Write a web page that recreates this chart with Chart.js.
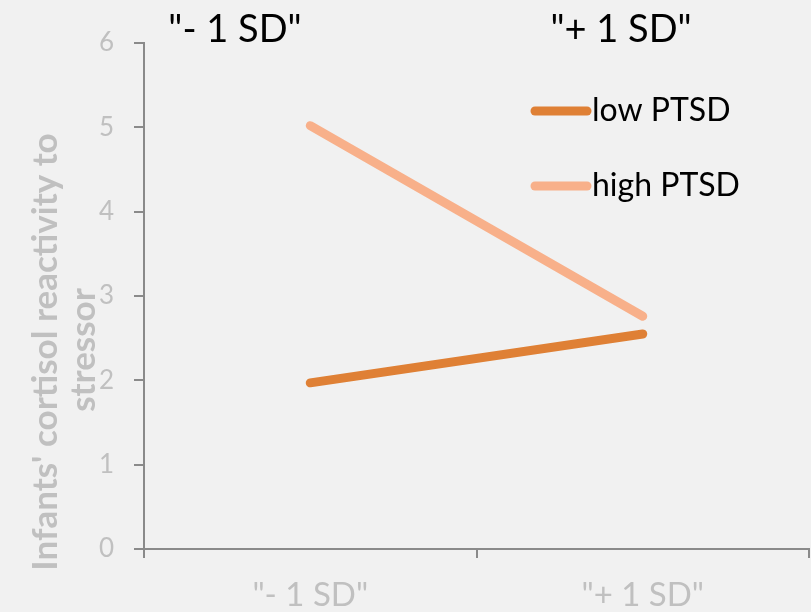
<!DOCTYPE html>
<html><head><meta charset="utf-8">
<script src="https://cdn.jsdelivr.net/npm/chart.js@4"></script>
<style>html,body{margin:0;padding:0;background:#f1f1f1;}#wrap{width:811px;height:612px;}</style>
</head><body><div id="wrap"><canvas id="c" width="811" height="612"></canvas></div>
<script>
const categories = ['"- 1 SD"', '"+ 1 SD"'];
const lowPTSD = [1.97, 2.55];
const highPTSD = [5.02, 2.76];
const yTicks = [0, 1, 2, 3, 4, 5, 6];
const topLabels = ['"- 1 SD"', '"+ 1 SD"'];
const seriesNames = ['low PTSD', 'high PTSD'];
const yTitleLines = ["Infants' cortisol reactivity to", 'stressor'];
const colors = ['#DF8035', '#F8B08A'];

const FONT = 'Lato, "Open Sans", sans-serif';

const bgPlugin = {
  id: 'bg',
  beforeDraw(chart) {
    const ctx = chart.ctx;
    ctx.save();
    ctx.fillStyle = '#f1f1f1';
    ctx.fillRect(0, 0, chart.width, chart.height);
    ctx.restore();
  }
};

const overlay = {
  id: 'overlay',
  afterDraw(chart) {
    const ctx = chart.ctx;
    ctx.save();
    // y axis title
    ctx.fillStyle = '#c0c0c0';
    ctx.font = 'bold 35px ' + FONT;
    ctx.textAlign = 'center';
    ctx.textBaseline = 'middle';
    const tpos = [[46, 352], [84, 350]];
    yTitleLines.forEach((t, i) => {
      ctx.save();
      ctx.translate(tpos[i][0], tpos[i][1]);
      ctx.rotate(-Math.PI / 2);
      ctx.fillText(t, 0, 0);
      ctx.restore();
    });
    // top labels
    ctx.fillStyle = '#000';
    ctx.font = '38px ' + FONT;
    ctx.fillText(topLabels[0], 235, 30);
    ctx.fillText(topLabels[1], 621, 30);
    // legend
    const ly = [111, 186];
    chart.data.datasets.forEach((ds, i) => {
      ctx.strokeStyle = ds.borderColor;
      ctx.lineWidth = 9;
      ctx.lineCap = 'round';
      ctx.beginPath();
      ctx.moveTo(535, ly[i]);
      ctx.lineTo(587, ly[i]);
      ctx.stroke();
      ctx.fillStyle = '#000';
      ctx.font = '32px ' + FONT;
      ctx.textAlign = 'left';
      ctx.textBaseline = 'middle';
      ctx.fillText(ds.label, 592, ly[i]);
    });
    ctx.restore();
  }
};

new Chart(document.getElementById('c'), {
  type: 'line',
  data: {
    labels: categories,
    datasets: [
      { label: seriesNames[0], data: lowPTSD, borderColor: colors[0], backgroundColor: colors[0], borderWidth: 9, borderCapStyle: 'round', pointRadius: 0, tension: 0 },
      { label: seriesNames[1], data: highPTSD, borderColor: colors[1], backgroundColor: colors[1], borderWidth: 9, borderCapStyle: 'round', pointRadius: 0, tension: 0 }
    ]
  },
  options: {
    responsive: false,
    animation: false,
    devicePixelRatio: 1,
    layout: { padding: { top: 43, right: 2, left: 0, bottom: 0 } },
    plugins: { legend: { display: false }, tooltip: { enabled: false } },
    scales: {
      x: {
        type: 'category',
        offset: true,
        grid: { display: true, drawOnChartArea: false, drawTicks: true, tickLength: 9, offset: true, color: '#8a8a8a', lineWidth: 2 },
        border: { display: true, color: '#8a8a8a', width: 2 },
        ticks: { color: '#c0c0c0', font: { family: FONT, size: 33 }, padding: 18 },
        afterFit(s) { s.height = 63; }
      },
      y: {
        min: 0, max: 6,
        afterBuildTicks(s) { s.ticks = yTicks.map(v => ({ value: v })); },
        grid: { display: true, drawOnChartArea: false, drawTicks: true, tickLength: 10, color: '#8a8a8a', lineWidth: 2 },
        border: { display: true, color: '#8a8a8a', width: 2 },
        ticks: { color: '#c0c0c0', font: { family: FONT, size: 26 }, padding: 20 },
        title: { display: false },
        afterFit(s) { s.width = 144; }
      }
    }
  },
  plugins: [bgPlugin, overlay]
});
</script></body></html>
